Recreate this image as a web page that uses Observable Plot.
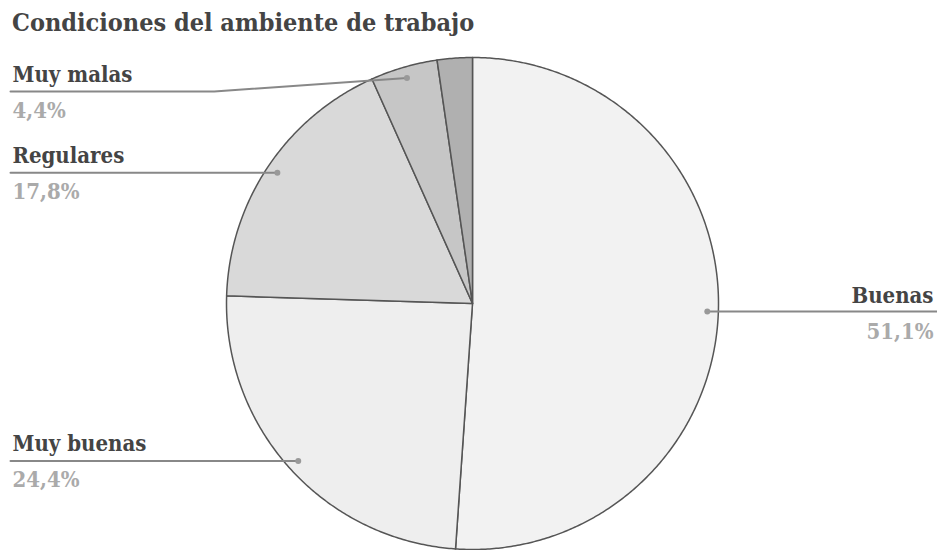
<!DOCTYPE html>
<html>
<head>
<meta charset="utf-8">
<script src="https://cdn.jsdelivr.net/npm/d3@7"></script>
<script src="https://cdn.jsdelivr.net/npm/@observablehq/plot@0.6"></script>
<style>
  html, body { margin: 0; padding: 0; background: #fff; }
  #title {
    height: 45px; box-sizing: border-box; padding: 8px 0 0 12px;
    font-family: "DejaVu Serif Condensed", "DejaVu Serif", serif; font-stretch: condensed;
    font-weight: bold; font-size: 25px;
    line-height: normal; color: #444; white-space: nowrap;
  }
  #chart svg { display: block; }
  #chart svg text { font-stretch: condensed; }
</style>
</head>
<body>
<div id="title">Condiciones del ambiente de trabajo</div>
<div id="chart"></div>
<script>
// ---- data ----
const labels = ["Buenas", "Muy buenas", "Regulares", "Muy malas", "Malas"];
const values = [51.1, 24.4, 17.8, 4.4, 2.3];
const percentLabels = ["51,1%", "24,4%", "17,8%", "4,4%", ""];
const showLabel = [true, true, true, true, false];
const colors = ["#f2f2f2", "#eeeeee", "#d9d9d9", "#c6c6c6", "#b0b0b0"];

// ---- layout ----
const W = 937, H = 505, cx = 472, cy = 258, R = 246;
const xDomain = [-cx / R, (W - cx) / R];
const yDomain = [-(H - cy) / R, cy / R];
const dotR = 0.955;
const elbowX = 1.05;
const topLineLimit = (cy - 46) / R;   // label lines may not go above this

const total = d3.sum(values);
let acc = 0;
const slices = labels.map((label, i) => {
  const a0 = acc / total * 2 * Math.PI;
  acc += values[i];
  const a1 = acc / total * 2 * Math.PI;
  return {label, value: values[i], pct: percentLabels[i], color: colors[i], show: showLabel[i], a0, a1};
});

// polygon points per slice (unit radius, angle clockwise from top)
const slicePoints = slices.map(s => {
  const pts = [{label: s.label, x: 0, y: 0}];
  const n = Math.max(4, Math.ceil((s.a1 - s.a0) / (Math.PI / 360)));
  for (let k = 0; k <= n; k++) {
    const a = s.a0 + (s.a1 - s.a0) * k / n;
    pts.push({label: s.label, x: Math.sin(a), y: Math.cos(a)});
  }
  pts.push({label: s.label, x: 0, y: 0});
  return pts;
});

// label anchors
const labelData = slices.filter(s => s.show).map(s => {
  const m = (s.a0 + s.a1) / 2;
  const dx = dotR * Math.sin(m), dy = dotR * Math.cos(m);
  const side = dx < 0 ? -1 : 1;
  const ly = Math.min(dy, topLineLimit);
  return {label: s.label, pct: s.pct, side, dx, dy, ly};
});
const leaderPoints = labelData.flatMap(d => {
  const edge = d.side < 0 ? xDomain[0] + 10 / R : xDomain[1];
  return [
    {label: d.label, x: d.dx, y: d.dy},
    {label: d.label, x: d.side * elbowX, y: d.ly},
    {label: d.label, x: edge, y: d.ly}
  ];
});
const left = labelData.filter(d => d.side < 0);
const right = labelData.filter(d => d.side > 0);

const font = {fontFamily: "'DejaVu Serif Condensed', 'DejaVu Serif', serif", fontWeight: "bold", fontSize: 22};

const marks = [];
slices.forEach((s, i) => {
  marks.push(Plot.line(slicePoints[i], {x: "x", y: "y", fill: s.color, stroke: "#555", strokeWidth: 1.5, strokeLinejoin: "round"}));
});
marks.push(
  Plot.line(leaderPoints, {x: "x", y: "y", z: "label", stroke: "#888", strokeWidth: 2}),
  Plot.dot(labelData, {x: "dx", y: "dy", r: 3, fill: "#999", stroke: "none"}),
  Plot.text(left, {x: () => xDomain[0], y: "ly", text: "label", textAnchor: "start", lineAnchor: "bottom", dx: 12, dy: -10, fill: "#444", ...font}),
  Plot.text(left, {x: () => xDomain[0], y: "ly", text: "pct", textAnchor: "start", lineAnchor: "bottom", dx: 12, dy: 26, fill: "#aaa", ...font}),
  Plot.text(right, {x: () => xDomain[1], y: "ly", text: "label", textAnchor: "end", lineAnchor: "bottom", dx: -4, dy: -9, fill: "#444", ...font}),
  Plot.text(right, {x: () => xDomain[1], y: "ly", text: "pct", textAnchor: "end", lineAnchor: "bottom", dx: -4, dy: 27, fill: "#aaa", ...font})
);

const chart = Plot.plot({
  width: W, height: H, margin: 0,
  x: {domain: xDomain, axis: null},
  y: {domain: yDomain, axis: null},
  style: {background: "#fff", overflow: "visible"},
  marks
});
document.getElementById("chart").appendChild(chart);
</script>
</body>
</html>
